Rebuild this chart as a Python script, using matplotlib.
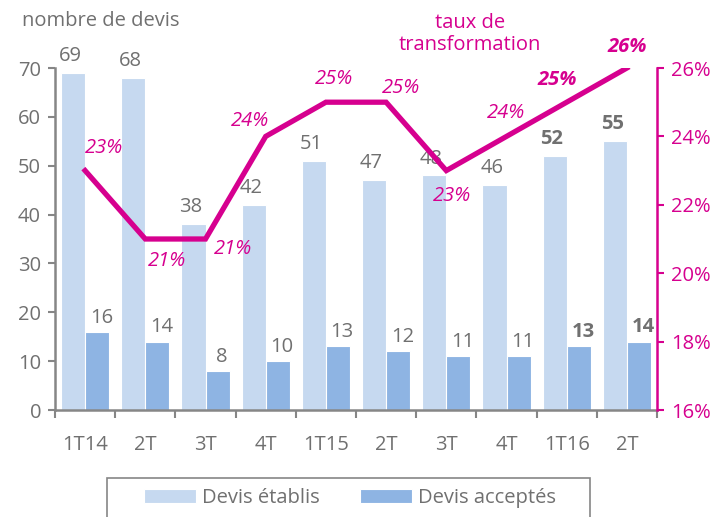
import numpy as np
import matplotlib.pyplot as plt
from matplotlib.patches import Rectangle
from matplotlib.ticker import FixedLocator, PercentFormatter

plt.rcParams['font.family'] = ['Open Sans', 'DejaVu Sans']

quarters = ['1T14', '2T', '3T', '4T', '1T15', '2T', '3T', '4T', '1T16', '2T']
devis_etablis = [69, 68, 38, 42, 51, 47, 48, 46, 52, 55]
devis_acceptes = [16, 14, 8, 10, 13, 12, 11, 11, 13, 14]
taux = [23, 21, 21, 24, 25, 25, 23, 24, 25, 26]   # percent
bold_last = 2  # last two quarters shown in bold

light = '#C6D9F0'
dark = '#8EB4E3'
magenta = '#D6008F'
grey = '#707070'
axis_grey = '#868686'
fs = 14.5

fig = plt.figure(figsize=(7.23, 5.17), dpi=100)
ax = fig.add_axes([55/723, 1 - 410/517, (657-55)/723, (410-68)/517])
ax2 = ax.twinx()

x = np.arange(len(quarters))
w = 0.4
b1 = ax.bar(x - w/2, devis_etablis, w, color=light, edgecolor='white', linewidth=0.8, label='Devis établis')
b2 = ax.bar(x + w/2, devis_acceptes, w, color=dark, edgecolor='white', linewidth=0.8, label='Devis acceptés')

ax.set_xlim(-0.5, len(quarters) - 0.5)
ax.set_ylim(0, 70)
ax.set_yticks(range(0, 71, 10))
ax.set_xticks(x)
ax.set_xticklabels(quarters)
ax.xaxis.set_minor_locator(FixedLocator(np.arange(-0.5, len(quarters), 1)))
ax.tick_params(axis='x', which='major', length=0, pad=18, labelsize=fs, labelcolor=grey)
ax.tick_params(axis='x', which='minor', length=6, width=1.5, color=axis_grey, direction='out')
ax.tick_params(axis='y', length=5, width=1.5, color=axis_grey, labelsize=fs, labelcolor=grey, pad=5)

for s in ['top', 'right']:
    ax.spines[s].set_visible(False)
for s in ['left', 'bottom']:
    ax.spines[s].set_color(axis_grey)
    ax.spines[s].set_linewidth(1.8)

# bar labels
n = len(quarters)
for i in range(n):
    fw = 'bold' if i >= n - bold_last else 'normal'
    ax.annotate(str(devis_etablis[i]), (x[i] - w/2, devis_etablis[i]), xytext=(-2, 5),
                textcoords='offset points', ha='center', va='bottom',
                fontsize=fs, color=grey, fontweight=fw)
    ax.annotate(str(devis_acceptes[i]), (x[i] + w/2, devis_acceptes[i]), xytext=(3, 3),
                textcoords='offset points', ha='center', va='bottom',
                fontsize=fs, color=grey, fontweight=fw)

# line on right axis
ax2.plot(x, taux, color=magenta, linewidth=3.8, solid_joinstyle='miter')
ax2.set_ylim(16, 26)
ax2.set_yticks(range(16, 27, 2))
ax2.yaxis.set_major_formatter(PercentFormatter(decimals=0))
ax2.tick_params(axis='y', length=5, width=1.5, color=magenta, labelsize=fs, labelcolor=magenta, pad=5)
for s in ['top', 'left', 'bottom']:
    ax2.spines[s].set_visible(False)
ax2.spines['right'].set_color(magenta)
ax2.spines['right'].set_linewidth(1.8)

# percentage label offsets (points) relative to each line point
pct_offsets = [(14, 16), (16, -16), (20, -7), (-11, 11), (6, 17), (11, 10), (4, -18), (0, 17), (-7, 16), (0, 15)]
for i in range(n):
    fw = 'bold' if i >= n - bold_last else 'normal'
    ax2.annotate(f'{taux[i]}%', (x[i], taux[i]), xytext=pct_offsets[i], textcoords='offset points',
                 ha='center', va='center', fontsize=fs, color=magenta, style='italic', fontweight=fw)

fig.text(22/723, 1 - 21/517, 'nombre de devis', fontsize=fs, color=grey, ha='left', va='center')
fig.text(470/723, 1 - 34/517, 'taux de\ntransformation', fontsize=fs, color=magenta,
         ha='center', va='center', linespacing=1.2)

leg = fig.legend(handles=[b1, b2], loc='upper center', bbox_to_anchor=(350/723, 1 - 482/517),
                 ncol=2, frameon=False, fontsize=fs, handlelength=2.6,
                 handleheight=0.7, handletextpad=0.3, columnspacing=2.0, borderpad=0.3,
                 borderaxespad=0, labelcolor=grey)

# legend box, cut by the bottom edge as in the original
fig.patches.append(Rectangle((107/723, -0.02), (590-107)/723, 0.02 + (517-478)/517,
                             transform=fig.transFigure, fill=False,
                             edgecolor=axis_grey, linewidth=1.2))

fig.savefig('out.png', dpi=100)
